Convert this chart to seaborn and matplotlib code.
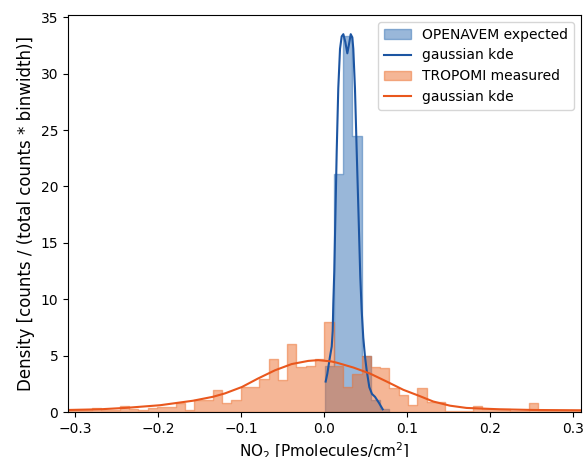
import numpy as np
import matplotlib
matplotlib.use("Agg")
import matplotlib.pyplot as plt
from matplotlib.colors import to_rgba
import seaborn as sns

# OPENAVEM expected NO2 column: histogram bin edges and densities
openavem_edges = [0.0012, 0.0122, 0.0232, 0.0342, 0.0452, 0.0562, 0.0672, 0.0782]
openavem_density = [4.1, 21.1, 33.3, 24.5, 5.0, 1.1, 0.3]

# gaussian kde of the OPENAVEM sample
openavem_kde_x = [0.0020, 0.0040, 0.0072, 0.0093, 0.0105, 0.0112, 0.0124, 0.0139,
                  0.0153, 0.0172, 0.0193, 0.0213, 0.0233, 0.0257, 0.0281, 0.0301,
                  0.0322, 0.0341, 0.0353, 0.0373, 0.0394, 0.0416, 0.0437, 0.0454,
                  0.0473, 0.0494, 0.0514, 0.0546, 0.0578, 0.0614, 0.0663, 0.0707]
openavem_kde_y = [2.7, 3.4, 4.9, 5.8, 7.2, 9.6, 12.5, 18.0,
                  23.1, 28.7, 32.2, 33.3, 33.5, 32.8, 31.8, 32.6,
                  33.5, 33.2, 32.2, 28.7, 23.1, 17.5, 12.0, 9.0,
                  6.6, 4.9, 3.7, 2.2, 1.6, 1.35, 0.8, 0.24]

# TROPOMI measured NO2 column: histogram range, bin count and densities
tropomi_range = (-0.3132, 0.3140)
tropomi_bins = 56
tropomi_density = [0.20, 0.20, 0.20, 0.38, 0.20, 0.20, 0.55, 0.27, 0.20, 0.35,
                   0.47, 0.47, 0.80, 0.20, 1.06, 1.06, 1.94, 0.82, 1.06, 2.20,
                   2.20, 2.97, 4.74, 2.82, 6.06, 3.95, 4.10, 4.70,
                   7.97, 4.10, 2.20, 3.40, 4.94, 4.00, 3.90, 2.10, 1.50, 0.60,
                   2.10, 0.90, 0.90, 0.10, 0.10, 0.10, 0.50, 0.30, 0.25, 0.25,
                   0.10, 0.10, 0.82, 0.15, 0.15, 0.15, 0.15, 0.15]

# gaussian kde of the TROPOMI sample
tropomi_kde_x = [-0.3084, -0.270, -0.238, -0.1976, -0.1578, -0.1337, -0.1193,
                 -0.0988, -0.0795, -0.059, -0.039, -0.019, -0.007, 0.009,
                 0.0155, 0.0355, 0.0554, 0.0755, 0.0955, 0.1157, 0.1316,
                 0.1518, 0.1717, 0.2118, 0.2518, 0.3096]
tropomi_kde_y = [0.18, 0.24, 0.37, 0.60, 1.00, 1.35, 1.65,
                 2.22, 2.97, 3.70, 4.25, 4.53, 4.60, 4.48,
                 4.37, 3.94, 3.41, 2.70, 1.97, 1.40, 0.93,
                 0.56, 0.36, 0.24, 0.18, 0.15]

blue_fill, blue_line = "#3471b4", "#1c55a2"
orange_fill, orange_line = "#ec6f2e", "#e9571d"

fig = plt.figure(figsize=(5.83, 4.57), dpi=100)
ax = fig.add_axes([68 / 583, 1 - 412 / 457, 513 / 583, 397 / 457])

tropomi_edges = np.linspace(tropomi_range[0], tropomi_range[1], tropomi_bins + 1).tolist()
openavem_centers = [(a + b) / 2 for a, b in zip(openavem_edges[:-1], openavem_edges[1:])]
tropomi_centers = [(a + b) / 2 for a, b in zip(tropomi_edges[:-1], tropomi_edges[1:])]

sns.histplot(x=openavem_centers, weights=openavem_density, bins=openavem_edges,
             stat="count", element="step", fill=True, color=blue_fill, alpha=0.5,
             linewidth=1, edgecolor=to_rgba(blue_fill, 0.5),
             label="OPENAVEM expected", ax=ax)
sns.lineplot(x=openavem_kde_x, y=openavem_kde_y, color=blue_line, linewidth=1.5,
             label="gaussian kde", ax=ax)
sns.histplot(x=tropomi_centers, weights=tropomi_density, bins=tropomi_edges,
             stat="count", element="step", fill=True, color=orange_fill, alpha=0.5,
             linewidth=1, edgecolor=to_rgba(orange_fill, 0.5),
             label="TROPOMI measured", ax=ax)
sns.lineplot(x=tropomi_kde_x, y=tropomi_kde_y, color=orange_line, linewidth=1.5,
             label="gaussian kde", ax=ax)

ax.set_xlim(-0.3084, 0.3096)
ax.set_ylim(0, 35.2)
ax.set_xticks([-0.3, -0.2, -0.1, 0.0, 0.1, 0.2, 0.3])
ax.set_xlabel("NO$_2$ [Pmolecules/cm$^2$]", fontsize=11)
ax.set_ylabel("Density [counts / (total counts * binwidth)]", fontsize=12)
ax.legend(loc="upper right")

fig.savefig("out.png", dpi=100)
